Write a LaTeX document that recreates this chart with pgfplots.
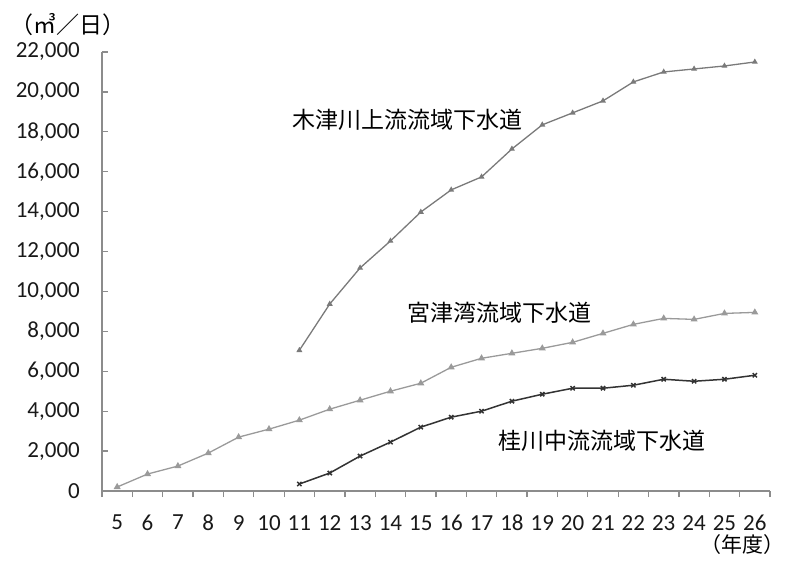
\documentclass[border=0pt]{standalone}
\usepackage{pgfplots}
\pgfplotsset{compat=1.18}
\usepackage{fontspec}
\setmainfont{Carlito}
\newfontfamily\jp{Noto Sans CJK JP}
\definecolor{axisgray}{HTML}{8C8C8C}
\definecolor{kizu}{HTML}{7A7A7A}
\definecolor{miyazu}{HTML}{9A9A9A}
\definecolor{katsura}{HTML}{333333}
\begin{document}
\begin{tikzpicture}
\path[use as bounding box] (0,0) rectangle (787pt,562pt);
\begin{axis}[
  at={(102pt,71pt)}, anchor=south west,
  scale only axis, width=668pt, height=439pt,
  xmin=4.5, xmax=26.5, ymin=0, ymax=22000,
  axis lines*=left,
  axis line style={draw=axisgray, line width=1.2pt},
  xtick={4.5,5.5,...,26.5},
  x tick label as interval,
  xticklabels={5,6,7,8,9,10,11,12,13,14,15,16,17,18,19,20,21,22,23,24,25,26},
  ytick={0,2000,...,22000},
  xtick align=outside, ytick align=inside,
  major tick length=6pt,
  tick style={draw=axisgray, line width=1.2pt},
  scaled y ticks=false,
  /pgf/number format/assume math mode=true,
  /pgf/number format/1000 sep={,},
  xticklabel style={font=\fontsize{23}{27}\selectfont, text=black!90, inner sep=0pt, anchor=north, yshift=-18pt},
  yticklabel style={font=\fontsize{23}{27}\selectfont, text=black!90, inner sep=0pt, anchor=east, xshift=-22pt},
  clip=false,
]
\addplot[color=kizu, line width=1.3pt, mark=triangle*, mark size=2.2pt] coordinates {
(11,7050) (12,9370) (13,11180) (14,12530) (15,13980) (16,15090) (17,15740) (18,17140)
(19,18350) (20,18950) (21,19550) (22,20500) (23,21000) (24,21150) (25,21300) (26,21500)};
\addplot[color=miyazu, line width=1.3pt, mark=triangle*, mark size=2.8pt] coordinates {
(5,200) (6,850) (7,1250) (8,1900) (9,2700) (10,3100) (11,3550) (12,4100) (13,4550)
(14,5000) (15,5400) (16,6200) (17,6650) (18,6900) (19,7150) (20,7450) (21,7900)
(22,8350) (23,8650) (24,8600) (25,8900) (26,8950)};
\addplot[color=katsura, line width=1.5pt, mark=x, mark size=3pt] coordinates {
(11,350) (12,900) (13,1750) (14,2450) (15,3200) (16,3700) (17,4000) (18,4500)
(19,4850) (20,5150) (21,5150) (22,5300) (23,5600) (24,5500) (25,5600) (26,5800)};
\node[font=\jp\fontsize{23}{27}\selectfont] at (axis cs:14.55,18600) {木津川上流流域下水道};
\node[font=\jp\fontsize{23}{27}\selectfont] at (axis cs:17.6,8920) {宮津湾流域下水道};
\node[font=\jp\fontsize{23}{27}\selectfont] at (axis cs:20.97,2500) {桂川中流流域下水道};
\end{axis}
\node[font=\jp\fontsize{23}{27}\selectfont] at (68pt,537pt) {（㎥／日）};
\node[font=\jp\fontsize{21}{25}\selectfont, inner sep=1pt] at (742pt,17pt) {（年度）};
\end{tikzpicture}
\end{document}
